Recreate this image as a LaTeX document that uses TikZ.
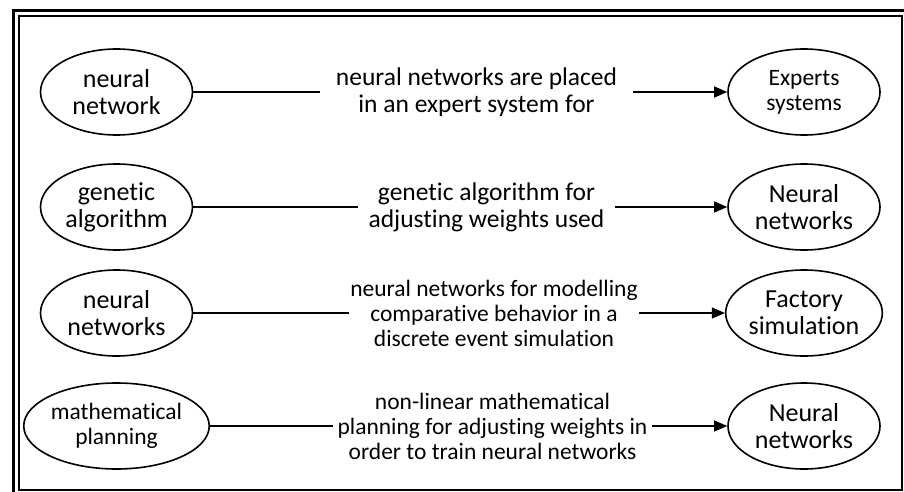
\documentclass[tikz,border=0pt]{standalone}
\usepackage{fontspec}
\setmainfont{Carlito}[Ligatures=NoCommon]
\usetikzlibrary{shapes.geometric, arrows.meta, positioning}

\tikzset{
  concept/.style={draw, ellipse, line width=1.6pt, minimum width=152pt, minimum height=86pt,
    inner sep=0pt, align=center, font=\fontsize{26}{27}\selectfont},
  relation/.style={inner sep=0pt, align=center, font=\fontsize{25.5}{27}\selectfont},
  smalltext/.style={font=\fontsize{23.5}{25}\selectfont},
  link/.style={line width=1.2pt},
  arrowlink/.style={line width=1.2pt, -{Triangle[length=13pt,width=11pt]}}
}

\begin{document}
\begin{tikzpicture}[x=1pt, y=-1pt]
    \useasboundingbox (0,0) rectangle (904,492);
    % double frame
    \draw[line width=2.5pt] (13.5,10.5) rectangle (912,500);
    \draw[line width=1.5pt] (19,16) rectangle (902,490);

    % row 1
    \node[concept] (nnet) at (116.5,92) {neural\\network};
    \node[relation, minimum width=313pt] (placed) at (476.5,92) {neural networks are placed\\in an expert system for};
    \node[concept, smalltext] (experts) at (804,92) {Experts\\systems};
    \draw[link] (nnet) -- (placed);
    \draw[arrowlink] (placed) -- (experts);

    % row 2
    \node[concept] (genalg) at (116.5,207) {genetic\\algorithm};
    \node[relation, minimum width=257pt] (weights) at (486.5,207) {genetic algorithm for\\adjusting weights used};
    \node[concept] (neuralA) at (804,207) {Neural\\networks};
    \draw[link] (genalg) -- (weights);
    \draw[arrowlink] (weights) -- (neuralA);

    % row 3
    \node[concept] (nnets) at (116.5,313) {neural\\networks};
    \node[relation, smalltext, minimum width=290pt] (modelling) at (494,313) {neural networks for modelling\\comparative behavior in a\\discrete event simulation};
    \node[concept] (factory) at (804,313) {Factory\\simulation};
    \draw[link] (nnets) -- (modelling);
    \draw[arrowlink] (modelling) -- (factory);

    % row 4
    \node[concept, smalltext] (mathplan) at (116.5,426) {mathematical\\planning};
    \node[relation, smalltext, minimum width=319pt] (nonlinear) at (492.5,426) {non-linear mathematical\\planning for adjusting weights in\\order to train neural networks};
    \node[concept] (neuralB) at (804,426) {Neural\\networks};
    \draw[link] (mathplan) -- (nonlinear);
    \draw[arrowlink] (nonlinear) -- (neuralB);
\end{tikzpicture}
\end{document}
